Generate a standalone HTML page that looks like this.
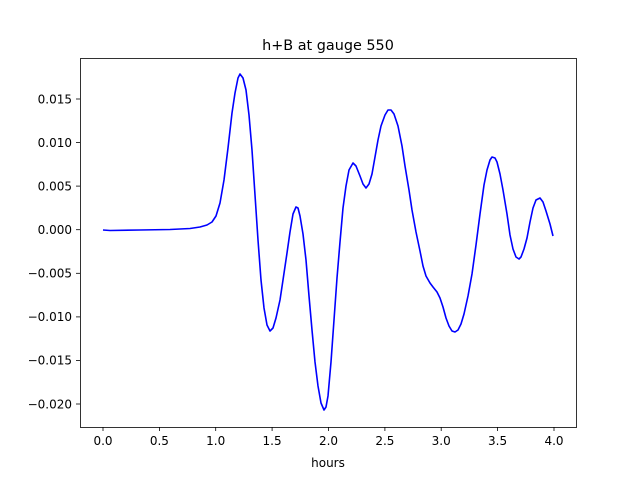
<!DOCTYPE html>
<html><head><style>body{margin:0;background:#fff}svg{display:block}</style></head><body>
<svg width="640" height="480" xmlns="http://www.w3.org/2000/svg" font-family="DejaVu Sans, Liberation Sans, sans-serif">
<rect width="640" height="480" fill="#fff"/>
<text x="328" y="50" font-size="14.4" text-anchor="middle">h+B at gauge 550</text>
<polyline fill="none" stroke="#0000ff" stroke-width="1.6" stroke-linejoin="round" points="103,230 110,230.5 140,230 170,229.5 190,228.5 200,227 207,225 212,222 216,216 220,203 224,180 228,148 232,113 235,93 238,78 240,74 243,78 246,90 249,115 252,150 255,195 258,240 261,280 264,308 267,325 270,331 273,328 276,318 280,300 283,280 287,253 290,232 293,214 296,207 298,208 300,216 303,234 306,260 309,296 312,330 315,362 318,386 321,403 324,410 326,407 328,396 331,362 334,320 337,278 340,242 343,208 346,186 349,170 353,163 356,166 360,176 363,184 366,188 369,184 372,174 375,157 378,140 381,126 385,115 388,110 391,110 394,114 398,126 402,146 405,166 409,190 412,210 416,232 420,251 423,266 426,276 430,283 433,287 437,292 440,298 443,307 446,318 449,326 452,331 455,332 458,330 461,324 464,314 468,296 472,274 476,245 480,214 484,185 487,170 490,160 492,157 495,158 497,162 500,174 503,190 507,214 510,235 513,249 516,257 519,259 521,257 524,249 527,238 530,222 533,208 536,200 540,198 543,202 546,211 550,224 553,236"/>
<rect x="80.5" y="58.5" width="496" height="369" fill="none" stroke="#000" stroke-width="0.8"/>
<g stroke="#000" stroke-width="0.8">
<line x1="103" y1="427" x2="103" y2="431"/><line x1="159.4" y1="427" x2="159.4" y2="431"/><line x1="215.7" y1="427" x2="215.7" y2="431"/><line x1="272.1" y1="427" x2="272.1" y2="431"/><line x1="328.5" y1="427" x2="328.5" y2="431"/><line x1="384.9" y1="427" x2="384.9" y2="431"/><line x1="441.2" y1="427" x2="441.2" y2="431"/><line x1="497.6" y1="427" x2="497.6" y2="431"/><line x1="554" y1="427" x2="554" y2="431"/>
<line x1="76" y1="99" x2="80" y2="99"/><line x1="76" y1="142.6" x2="80" y2="142.6"/><line x1="76" y1="186.1" x2="80" y2="186.1"/><line x1="76" y1="229.7" x2="80" y2="229.7"/><line x1="76" y1="273.3" x2="80" y2="273.3"/><line x1="76" y1="316.9" x2="80" y2="316.9"/><line x1="76" y1="360.4" x2="80" y2="360.4"/><line x1="76" y1="404" x2="80" y2="404"/>
</g>
<g font-size="12" text-anchor="middle">
<text x="103" y="445">0.0</text><text x="159.4" y="445">0.5</text><text x="215.7" y="445">1.0</text><text x="272.1" y="445">1.5</text><text x="328.5" y="445">2.0</text><text x="384.9" y="445">2.5</text><text x="441.2" y="445">3.0</text><text x="497.6" y="445">3.5</text><text x="554" y="445">4.0</text>
<text x="328" y="467">hours</text>
</g>
<g font-size="12" text-anchor="end">
<text x="72" y="103.5">0.015</text><text x="72" y="147">0.010</text><text x="72" y="190.5">0.005</text><text x="72" y="234">0.000</text><text x="72" y="277.5">−0.005</text><text x="72" y="321">−0.010</text><text x="72" y="364.5">−0.015</text><text x="72" y="408.5">−0.020</text>
</g>
</svg>
</body></html>
